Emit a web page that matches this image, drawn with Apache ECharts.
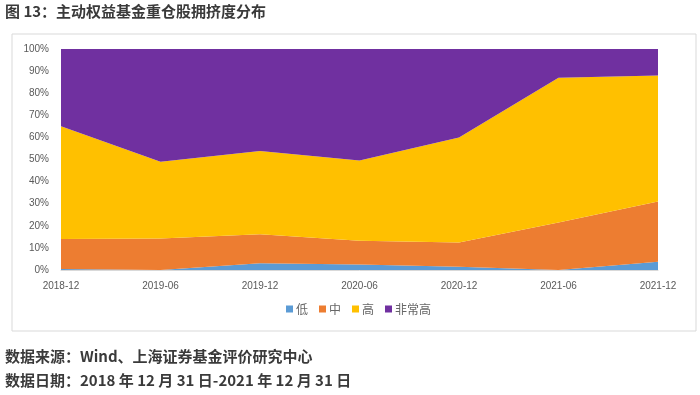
<!DOCTYPE html>
<html><head><meta charset="utf-8">
<script src="https://cdn.jsdelivr.net/npm/echarts@6/dist/echarts.min.js"></script>
<style>html,body{margin:0;padding:0;background:#fff}#c{width:700px;height:395px}</style>
</head><body><div id="c"></div>
<script>
const categories = ['2018-12','2019-06','2019-12','2020-06','2020-12','2021-06','2021-12'];
const seriesNames = ['低','中','高','非常高'];
const low = [0.5, 0, 3, 2.5, 1.5, 0, 3.7];
const mid = [13.5, 14.2, 13.2, 10.7, 11, 21.5, 27.3];
const high = [51, 34.8, 37.6, 36.3, 47.5, 65.5, 57];
const veryHigh = [35, 51, 46.2, 50.5, 40, 13, 12];
const yTicks = [0,10,20,30,40,50,60,70,80,90,100];
const colors = ['#5B9BD5','#ED7D31','#FFC000','#7030A0'];
const values = [low, mid, high, veryHigh];

const chart = echarts.init(document.getElementById('c'), null, {renderer:'canvas'});
chart.setOption({
  animation:false,
  backgroundColor:'#fff',
  title:{text:'图 13：主动权益基金重仓股拥挤度分布', left:5, top:4, padding:0,
    textStyle:{fontFamily:'Noto Sans CJK SC', fontSize:15, fontWeight:'bold', color:'#3a3a3a'}},
  graphic:[
    {type:'rect', shape:{x:12,y:34,width:684,height:297}, style:{fill:'none', stroke:'#d9d9d9', lineWidth:1}, z:-1},
    {type:'text', left:5, top:349, style:{text:'数据来源：Wind、上海证券基金评价研究中心', font:'bold 15px "Noto Sans CJK SC"', fill:'#3a3a3a'}},
    {type:'text', left:5, top:373, style:{text:'数据日期：2018 年 12 月 31 日-2021 年 12 月 31 日', font:'bold 15px "Noto Sans CJK SC"', fill:'#3a3a3a'}}
  ],
  color:colors,
  legend:{data:seriesNames, top:303, left:286, padding:0, itemWidth:7, itemHeight:7, itemGap:11, icon:'rect',
    textStyle:{fontSize:12, color:'#666', fontFamily:'Noto Sans CJK SC', padding:[0,0,0,-2]}},
  grid:{left:61, right:42, top:49, bottom:125},
  xAxis:{type:'category', data:categories, boundaryGap:false,
    axisLine:{lineStyle:{color:'#d9d9d9'}}, axisTick:{show:false},
    axisLabel:{color:'#595959', fontSize:10, fontFamily:'Liberation Sans', margin:11}},
  yAxis:{type:'value', min:0, max:100, interval:10,
    axisLabel:{formatter:v=>v+'%', color:'#595959', fontSize:10, fontFamily:'Liberation Sans', margin:12},
    splitLine:{show:false}, axisLine:{show:false}, axisTick:{show:false}},
  series: seriesNames.map((n,i)=>({
    name:n, type:'line', stack:'total', data:values[i], symbol:'none',
    lineStyle:{width:0}, areaStyle:{color:colors[i], opacity:1}, itemStyle:{color:colors[i]}
  }))
});
</script></body></html>
